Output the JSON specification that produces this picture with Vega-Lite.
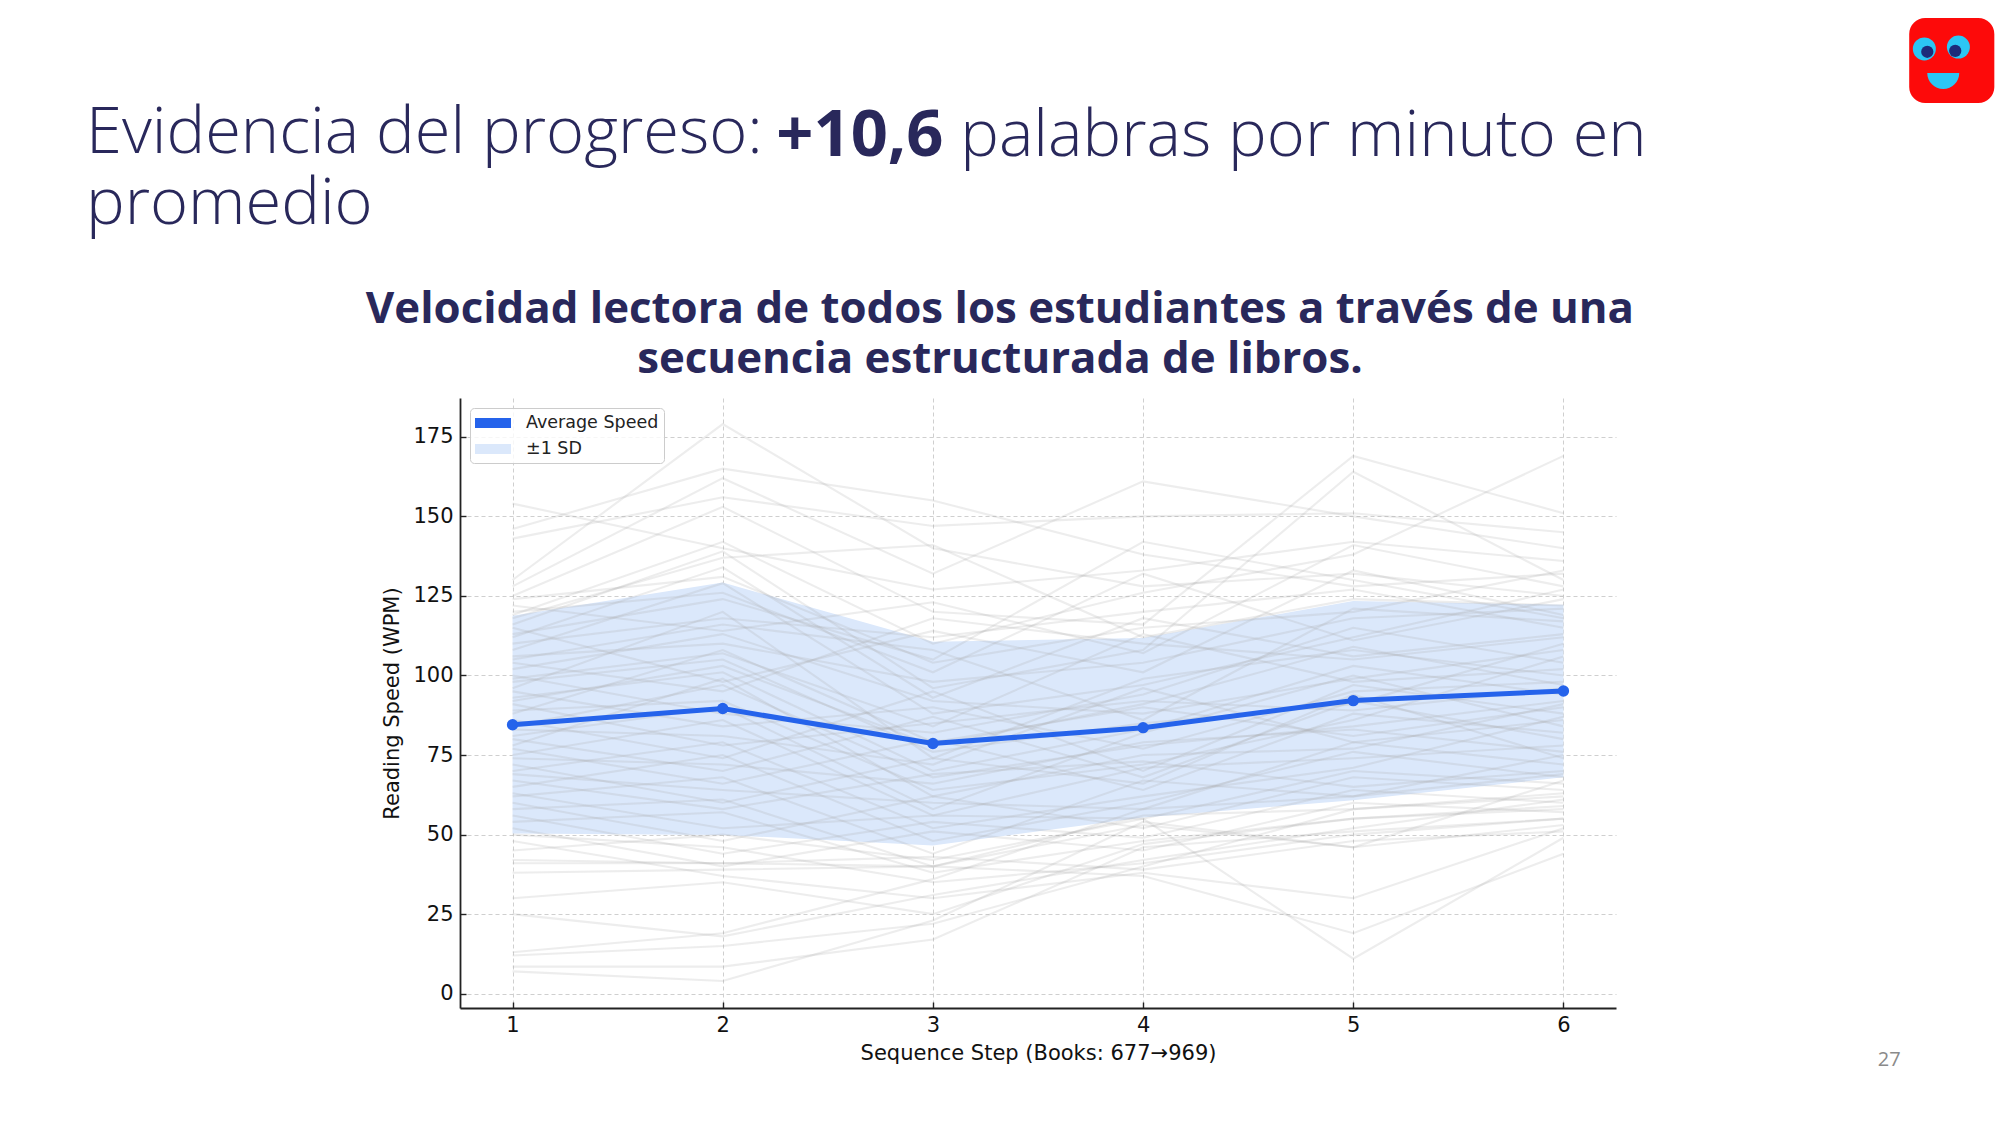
{
  "$schema": "https://vega.github.io/schema/vega-lite/v6.json",
  "background": "white",
  "padding": {"left": 86, "top": 18, "right": 5, "bottom": 20},
  "title": {
    "text": ["Evidencia del progreso:", "promedio"],
    "anchor": "start",
    "frame": "group",
    "dx": -374,
    "offset": -220,
    "font": "Open Sans",
    "fontSize": 65,
    "fontWeight": 300,
    "color": "#29285b",
    "lineHeight": 71
  },
  "width": 1156,
  "height": 610,
  "datasets": {
    "summary": [
      {"step": 1, "mean": 84.5, "lo": 50.3, "hi": 118.8},
      {"step": 2, "mean": 89.6, "lo": 49.9, "hi": 129.2},
      {"step": 3, "mean": 78.6, "lo": 46.6, "hi": 110.6},
      {"step": 4, "mean": 83.6, "lo": 55.4, "hi": 111.8},
      {"step": 5, "mean": 92.1, "lo": 60.8, "hi": 123.4},
      {"step": 6, "mean": 95.1, "lo": 68.0, "hi": 122.2}
    ],
    "students": [
      {"student":1,"step":1,"wpm":154},{"student":1,"step":2,"wpm":140},{"student":1,"step":3,"wpm":127},{"student":1,"step":4,"wpm":133},{"student":1,"step":5,"wpm":142},{"student":1,"step":6,"wpm":136},
      {"student":2,"step":1,"wpm":146},{"student":2,"step":2,"wpm":165},{"student":2,"step":3,"wpm":155},{"student":2,"step":4,"wpm":138},{"student":2,"step":5,"wpm":128},{"student":2,"step":6,"wpm":132},
      {"student":3,"step":1,"wpm":143},{"student":3,"step":2,"wpm":156},{"student":3,"step":3,"wpm":147},{"student":3,"step":4,"wpm":150},{"student":3,"step":5,"wpm":151},{"student":3,"step":6,"wpm":145},
      {"student":4,"step":1,"wpm":130},{"student":4,"step":2,"wpm":179},{"student":4,"step":3,"wpm":140},{"student":4,"step":4,"wpm":128},{"student":4,"step":5,"wpm":132},{"student":4,"step":6,"wpm":125},
      {"student":5,"step":1,"wpm":128},{"student":5,"step":2,"wpm":162},{"student":5,"step":3,"wpm":132},{"student":5,"step":4,"wpm":161},{"student":5,"step":5,"wpm":150},{"student":5,"step":6,"wpm":140},
      {"student":6,"step":1,"wpm":125},{"student":6,"step":2,"wpm":153},{"student":6,"step":3,"wpm":120},{"student":6,"step":4,"wpm":116},{"student":6,"step":5,"wpm":169},{"student":6,"step":6,"wpm":151},
      {"student":7,"step":1,"wpm":119},{"student":7,"step":2,"wpm":142},{"student":7,"step":3,"wpm":110},{"student":7,"step":4,"wpm":126},{"student":7,"step":5,"wpm":138},{"student":7,"step":6,"wpm":169},
      {"student":8,"step":1,"wpm":118},{"student":8,"step":2,"wpm":137},{"student":8,"step":3,"wpm":141},{"student":8,"step":4,"wpm":112},{"student":8,"step":5,"wpm":124},{"student":8,"step":6,"wpm":122},
      {"student":9,"step":1,"wpm":116},{"student":9,"step":2,"wpm":139},{"student":9,"step":3,"wpm":96},{"student":9,"step":4,"wpm":108},{"student":9,"step":5,"wpm":164},{"student":9,"step":6,"wpm":130},
      {"student":10,"step":1,"wpm":113},{"student":10,"step":2,"wpm":124},{"student":10,"step":3,"wpm":105},{"student":10,"step":4,"wpm":142},{"student":10,"step":5,"wpm":130},{"student":10,"step":6,"wpm":118},
      {"student":11,"step":1,"wpm":110},{"student":11,"step":2,"wpm":118},{"student":11,"step":3,"wpm":112},{"student":11,"step":4,"wpm":120},{"student":11,"step":5,"wpm":127},{"student":11,"step":6,"wpm":115},
      {"student":12,"step":1,"wpm":108},{"student":12,"step":2,"wpm":129},{"student":12,"step":3,"wpm":88},{"student":12,"step":4,"wpm":97},{"student":12,"step":5,"wpm":112},{"student":12,"step":6,"wpm":127},
      {"student":13,"step":1,"wpm":106},{"student":13,"step":2,"wpm":110},{"student":13,"step":3,"wpm":98},{"student":13,"step":4,"wpm":104},{"student":13,"step":5,"wpm":118},{"student":13,"step":6,"wpm":121},
      {"student":14,"step":1,"wpm":104},{"student":14,"step":2,"wpm":95},{"student":14,"step":3,"wpm":118},{"student":14,"step":4,"wpm":110},{"student":14,"step":5,"wpm":105},{"student":14,"step":6,"wpm":112},
      {"student":15,"step":1,"wpm":102},{"student":15,"step":2,"wpm":113},{"student":15,"step":3,"wpm":92},{"student":15,"step":4,"wpm":88},{"student":15,"step":5,"wpm":99},{"student":15,"step":6,"wpm":108},
      {"student":16,"step":1,"wpm":100},{"student":16,"step":2,"wpm":88},{"student":16,"step":3,"wpm":82},{"student":16,"step":4,"wpm":94},{"student":16,"step":5,"wpm":115},{"student":16,"step":6,"wpm":104},
      {"student":17,"step":1,"wpm":98},{"student":17,"step":2,"wpm":105},{"student":17,"step":3,"wpm":76},{"student":17,"step":4,"wpm":85},{"student":17,"step":5,"wpm":91},{"student":17,"step":6,"wpm":110},
      {"student":18,"step":1,"wpm":96},{"student":18,"step":2,"wpm":120},{"student":18,"step":3,"wpm":74},{"student":18,"step":4,"wpm":99},{"student":18,"step":5,"wpm":108},{"student":18,"step":6,"wpm":100},
      {"student":19,"step":1,"wpm":95},{"student":19,"step":2,"wpm":84},{"student":19,"step":3,"wpm":90},{"student":19,"step":4,"wpm":77},{"student":19,"step":5,"wpm":95},{"student":19,"step":6,"wpm":98},
      {"student":20,"step":1,"wpm":93},{"student":20,"step":2,"wpm":101},{"student":20,"step":3,"wpm":70},{"student":20,"step":4,"wpm":83},{"student":20,"step":5,"wpm":103},{"student":20,"step":6,"wpm":94},
      {"student":21,"step":1,"wpm":91},{"student":21,"step":2,"wpm":78},{"student":21,"step":3,"wpm":85},{"student":21,"step":4,"wpm":92},{"student":21,"step":5,"wpm":89},{"student":21,"step":6,"wpm":96},
      {"student":22,"step":1,"wpm":89},{"student":22,"step":2,"wpm":92},{"student":22,"step":3,"wpm":64},{"student":22,"step":4,"wpm":72},{"student":22,"step":5,"wpm":86},{"student":22,"step":6,"wpm":106},
      {"student":23,"step":1,"wpm":88},{"student":23,"step":2,"wpm":108},{"student":23,"step":3,"wpm":79},{"student":23,"step":4,"wpm":90},{"student":23,"step":5,"wpm":81},{"student":23,"step":6,"wpm":90},
      {"student":24,"step":1,"wpm":86},{"student":24,"step":2,"wpm":74},{"student":24,"step":3,"wpm":95},{"student":24,"step":4,"wpm":70},{"student":24,"step":5,"wpm":97},{"student":24,"step":6,"wpm":88},
      {"student":25,"step":1,"wpm":84},{"student":25,"step":2,"wpm":97},{"student":25,"step":3,"wpm":68},{"student":25,"step":4,"wpm":78},{"student":25,"step":5,"wpm":84},{"student":25,"step":6,"wpm":92},
      {"student":26,"step":1,"wpm":83},{"student":26,"step":2,"wpm":81},{"student":26,"step":3,"wpm":72},{"student":26,"step":4,"wpm":96},{"student":26,"step":5,"wpm":79},{"student":26,"step":6,"wpm":86},
      {"student":27,"step":1,"wpm":81},{"student":27,"step":2,"wpm":90},{"student":27,"step":3,"wpm":58},{"student":27,"step":4,"wpm":82},{"student":27,"step":5,"wpm":100},{"student":27,"step":6,"wpm":84},
      {"student":28,"step":1,"wpm":80},{"student":28,"step":2,"wpm":70},{"student":28,"step":3,"wpm":87},{"student":28,"step":4,"wpm":68},{"student":28,"step":5,"wpm":92},{"student":28,"step":6,"wpm":80},
      {"student":29,"step":1,"wpm":78},{"student":29,"step":2,"wpm":99},{"student":29,"step":3,"wpm":62},{"student":29,"step":4,"wpm":75},{"student":29,"step":5,"wpm":77},{"student":29,"step":6,"wpm":91},
      {"student":30,"step":1,"wpm":77},{"student":30,"step":2,"wpm":66},{"student":30,"step":3,"wpm":80},{"student":30,"step":4,"wpm":64},{"student":30,"step":5,"wpm":88},{"student":30,"step":6,"wpm":82},
      {"student":31,"step":1,"wpm":75},{"student":31,"step":2,"wpm":86},{"student":31,"step":3,"wpm":56},{"student":31,"step":4,"wpm":71},{"student":31,"step":5,"wpm":74},{"student":31,"step":6,"wpm":78},
      {"student":32,"step":1,"wpm":74},{"student":32,"step":2,"wpm":72},{"student":32,"step":3,"wpm":66},{"student":32,"step":4,"wpm":79},{"student":32,"step":5,"wpm":83},{"student":32,"step":6,"wpm":76},
      {"student":33,"step":1,"wpm":72},{"student":33,"step":2,"wpm":60},{"student":33,"step":3,"wpm":74},{"student":33,"step":4,"wpm":66},{"student":33,"step":5,"wpm":94},{"student":33,"step":6,"wpm":74},
      {"student":34,"step":1,"wpm":70},{"student":34,"step":2,"wpm":79},{"student":34,"step":3,"wpm":52},{"student":34,"step":4,"wpm":62},{"student":34,"step":5,"wpm":71},{"student":34,"step":6,"wpm":87},
      {"student":35,"step":1,"wpm":69},{"student":35,"step":2,"wpm":64},{"student":35,"step":3,"wpm":60},{"student":35,"step":4,"wpm":58},{"student":35,"step":5,"wpm":79},{"student":35,"step":6,"wpm":72},
      {"student":36,"step":1,"wpm":67},{"student":36,"step":2,"wpm":58},{"student":36,"step":3,"wpm":69},{"student":36,"step":4,"wpm":73},{"student":36,"step":5,"wpm":65},{"student":36,"step":6,"wpm":70},
      {"student":37,"step":1,"wpm":65},{"student":37,"step":2,"wpm":75},{"student":37,"step":3,"wpm":48},{"student":37,"step":4,"wpm":60},{"student":37,"step":5,"wpm":76},{"student":37,"step":6,"wpm":68},
      {"student":38,"step":1,"wpm":63},{"student":38,"step":2,"wpm":52},{"student":38,"step":3,"wpm":56},{"student":38,"step":4,"wpm":55},{"student":38,"step":5,"wpm":70},{"student":38,"step":6,"wpm":66},
      {"student":39,"step":1,"wpm":62},{"student":39,"step":2,"wpm":68},{"student":39,"step":3,"wpm":44},{"student":39,"step":4,"wpm":67},{"student":39,"step":5,"wpm":62},{"student":39,"step":6,"wpm":75},
      {"student":40,"step":1,"wpm":60},{"student":40,"step":2,"wpm":48},{"student":40,"step":3,"wpm":62},{"student":40,"step":4,"wpm":52},{"student":40,"step":5,"wpm":68},{"student":40,"step":6,"wpm":64},
      {"student":41,"step":1,"wpm":58},{"student":41,"step":2,"wpm":61},{"student":41,"step":3,"wpm":40},{"student":41,"step":4,"wpm":56},{"student":41,"step":5,"wpm":58},{"student":41,"step":6,"wpm":62},
      {"student":42,"step":1,"wpm":56},{"student":42,"step":2,"wpm":44},{"student":42,"step":3,"wpm":54},{"student":42,"step":4,"wpm":49},{"student":42,"step":5,"wpm":64},{"student":42,"step":6,"wpm":60},
      {"student":43,"step":1,"wpm":54},{"student":43,"step":2,"wpm":57},{"student":43,"step":3,"wpm":38},{"student":43,"step":4,"wpm":48},{"student":43,"step":5,"wpm":55},{"student":43,"step":6,"wpm":58},
      {"student":44,"step":1,"wpm":52},{"student":44,"step":2,"wpm":40},{"student":44,"step":3,"wpm":51},{"student":44,"step":4,"wpm":45},{"student":44,"step":5,"wpm":60},{"student":44,"step":6,"wpm":57},
      {"student":45,"step":1,"wpm":50},{"student":45,"step":2,"wpm":46},{"student":45,"step":3,"wpm":35},{"student":45,"step":4,"wpm":41},{"student":45,"step":5,"wpm":50},{"student":45,"step":6,"wpm":55},
      {"student":46,"step":1,"wpm":48},{"student":46,"step":2,"wpm":37},{"student":46,"step":3,"wpm":30},{"student":46,"step":4,"wpm":38},{"student":46,"step":5,"wpm":30},{"student":46,"step":6,"wpm":52},
      {"student":47,"step":1,"wpm":45},{"student":47,"step":2,"wpm":50},{"student":47,"step":3,"wpm":42},{"student":47,"step":4,"wpm":55},{"student":47,"step":5,"wpm":11},{"student":47,"step":6,"wpm":49},
      {"student":48,"step":1,"wpm":42},{"student":48,"step":2,"wpm":41},{"student":48,"step":3,"wpm":40},{"student":48,"step":4,"wpm":53},{"student":48,"step":5,"wpm":46},{"student":48,"step":6,"wpm":53},
      {"student":49,"step":1,"wpm":41},{"student":49,"step":2,"wpm":41},{"student":49,"step":3,"wpm":43},{"student":49,"step":4,"wpm":39},{"student":49,"step":5,"wpm":48},{"student":49,"step":6,"wpm":51},
      {"student":50,"step":1,"wpm":38},{"student":50,"step":2,"wpm":39},{"student":50,"step":3,"wpm":40},{"student":50,"step":4,"wpm":37},{"student":50,"step":5,"wpm":19},{"student":50,"step":6,"wpm":44},
      {"student":51,"step":1,"wpm":30},{"student":51,"step":2,"wpm":35},{"student":51,"step":3,"wpm":25},{"student":51,"step":4,"wpm":47},{"student":51,"step":5,"wpm":55},{"student":51,"step":6,"wpm":59},
      {"student":52,"step":1,"wpm":25},{"student":52,"step":2,"wpm":18},{"student":52,"step":3,"wpm":31},{"student":52,"step":4,"wpm":42},{"student":52,"step":5,"wpm":52},{"student":52,"step":6,"wpm":61},
      {"student":53,"step":1,"wpm":12},{"student":53,"step":2,"wpm":15},{"student":53,"step":3,"wpm":22},{"student":53,"step":4,"wpm":40},{"student":53,"step":5,"wpm":58},{"student":53,"step":6,"wpm":63},
      {"student":54,"step":1,"wpm":8.5},{"student":54,"step":2,"wpm":8.5},{"student":54,"step":3,"wpm":17},{"student":54,"step":4,"wpm":46},{"student":54,"step":5,"wpm":51},{"student":54,"step":6,"wpm":55},
      {"student":55,"step":1,"wpm":7},{"student":55,"step":2,"wpm":4},{"student":55,"step":3,"wpm":23},{"student":55,"step":4,"wpm":54},{"student":55,"step":5,"wpm":46},{"student":55,"step":6,"wpm":67},
      {"student":56,"step":1,"wpm":13},{"student":56,"step":2,"wpm":19},{"student":56,"step":3,"wpm":36},{"student":56,"step":4,"wpm":58},{"student":56,"step":5,"wpm":62},{"student":56,"step":6,"wpm":69},
      {"student":57,"step":1,"wpm":124},{"student":57,"step":2,"wpm":131},{"student":57,"step":3,"wpm":104},{"student":57,"step":4,"wpm":115},{"student":57,"step":5,"wpm":120},{"student":57,"step":6,"wpm":133},
      {"student":58,"step":1,"wpm":122},{"student":58,"step":2,"wpm":114},{"student":58,"step":3,"wpm":123},{"student":58,"step":4,"wpm":107},{"student":58,"step":5,"wpm":141},{"student":58,"step":6,"wpm":128},
      {"student":59,"step":1,"wpm":120},{"student":59,"step":2,"wpm":126},{"student":59,"step":3,"wpm":101},{"student":59,"step":4,"wpm":132},{"student":59,"step":5,"wpm":111},{"student":59,"step":6,"wpm":124},
      {"student":60,"step":1,"wpm":115},{"student":60,"step":2,"wpm":98},{"student":60,"step":3,"wpm":114},{"student":60,"step":4,"wpm":101},{"student":60,"step":5,"wpm":133},{"student":60,"step":6,"wpm":119},
      {"student":61,"step":1,"wpm":112},{"student":61,"step":2,"wpm":134},{"student":61,"step":3,"wpm":93},{"student":61,"step":4,"wpm":118},{"student":61,"step":5,"wpm":106},{"student":61,"step":6,"wpm":113},
      {"student":62,"step":1,"wpm":105},{"student":62,"step":2,"wpm":116},{"student":62,"step":3,"wpm":108},{"student":62,"step":4,"wpm":86},{"student":62,"step":5,"wpm":121},{"student":62,"step":6,"wpm":117},
      {"student":63,"step":1,"wpm":99},{"student":63,"step":2,"wpm":107},{"student":63,"step":3,"wpm":84},{"student":63,"step":4,"wpm":113},{"student":63,"step":5,"wpm":98},{"student":63,"step":6,"wpm":102},
      {"student":64,"step":1,"wpm":92},{"student":64,"step":2,"wpm":103},{"student":64,"step":3,"wpm":78},{"student":64,"step":4,"wpm":91},{"student":64,"step":5,"wpm":109},{"student":64,"step":6,"wpm":97}
    ]
  },
  "layer": [
    {
      "data": {"name": "summary"},
      "mark": {"type": "area", "opacity": 1},
      "encoding": {
        "x": {
          "field": "step", "type": "quantitative",
          "scale": {"domain": [0.75, 6.25], "nice": false, "zero": false},
          "axis": {"values": [1, 2, 3, 4, 5, 6], "format": "d", "title": "Sequence Step (Books: 677→969)"}
        },
        "y": {
          "field": "lo", "type": "quantitative",
          "scale": {"domain": [-4.5, 187.2], "nice": false, "zero": false},
          "axis": {"values": [0, 25, 50, 75, 100, 125, 150, 175], "format": "d", "title": "Reading Speed (WPM)"}
        },
        "y2": {"field": "hi"},
        "color": {
          "datum": "±1 SD",
          "scale": {"domain": ["Average Speed", "±1 SD"], "range": ["#2563eb", "#dbe8fb"]},
          "legend": {
            "title": null,
            "orient": "top-left",
            "direction": "vertical",
            "offset": 10,
            "padding": 5,
            "fillColor": "rgba(255,255,255,0.8)",
            "strokeColor": "#cccccc",
            "cornerRadius": 4,
            "labelFont": "DejaVu Sans",
            "labelFontSize": 17.5,
            "labelColor": "#222222",
            "symbolType": "M-1.8,-0.5H1.8V0.5H-1.8Z",
            "symbolSize": 400,
            "symbolStrokeWidth": 0,
            "symbolOffset": 8,
            "labelOffset": 23,
            "rowPadding": 7
          }
        }
      }
    },
    {
      "data": {"name": "students"},
      "mark": {"type": "line", "color": "#a4a4a4", "opacity": 0.2, "strokeWidth": 2.1},
      "encoding": {
        "x": {"field": "step", "type": "quantitative"},
        "y": {"field": "wpm", "type": "quantitative"},
        "detail": {"field": "student", "type": "nominal"}
      }
    },
    {
      "data": {"name": "summary"},
      "mark": {"type": "line", "color": "#2563eb", "strokeWidth": 5, "point": {"filled": true, "size": 130, "color": "#2563eb"}},
      "encoding": {
        "x": {"field": "step", "type": "quantitative"},
        "y": {"field": "mean", "type": "quantitative"}
      }
    },
    {
      "data": {"values": [{}]},
      "mark": {"type": "text", "text": "+10,6", "font": "Open Sans", "fontSize": 65, "fontWeight": 700, "color": "#29285b", "align": "left", "baseline": "alphabetic"},
      "encoding": {
        "x": {"datum": 2.255, "type": "quantitative"},
        "y": {"datum": 263.25, "type": "quantitative"}
      }
    },
    {
      "data": {"values": [{}]},
      "mark": {"type": "text", "text": "palabras por minuto en", "font": "Open Sans", "fontSize": 65, "fontWeight": 300, "color": "#29285b", "align": "left", "baseline": "alphabetic"},
      "encoding": {
        "x": {"datum": 3.13, "type": "quantitative"},
        "y": {"datum": 263.25, "type": "quantitative"}
      }
    },
    {
      "data": {"values": [{}]},
      "mark": {"type": "text", "text": ["Velocidad lectora de todos los estudiantes a través de una", "secuencia estructurada de libros."], "font": "Open Sans", "fontSize": 43.8, "fontWeight": 700, "color": "#29285b", "align": "center", "baseline": "alphabetic", "lineHeight": 50},
      "encoding": {
        "x": {"datum": 3.319, "type": "quantitative"},
        "y": {"datum": 210.8, "type": "quantitative"}
      }
    },
    {
      "data": {"values": [{}]},
      "mark": {"type": "rect", "color": "#fd0a0a", "cornerRadius": 16},
      "encoding": {
        "x": {"datum": 7.645, "type": "quantitative"},
        "x2": {"datum": 8.05},
        "y": {"datum": 306.6, "type": "quantitative"},
        "y2": {"datum": 279.9}
      }
    },
    {
      "data": {"values": [{}]},
      "mark": {"type": "point", "shape": "circle", "filled": true, "opacity": 1, "size": 530, "color": "#2cc6f4"},
      "encoding": {
        "x": {"datum": 7.717, "type": "quantitative"},
        "y": {"datum": 296.9, "type": "quantitative"}
      }
    },
    {
      "data": {"values": [{}]},
      "mark": {"type": "point", "shape": "circle", "filled": true, "opacity": 1, "size": 530, "color": "#2cc6f4"},
      "encoding": {
        "x": {"datum": 7.879, "type": "quantitative"},
        "y": {"datum": 297.5, "type": "quantitative"}
      }
    },
    {
      "data": {"values": [{}]},
      "mark": {"type": "point", "shape": "circle", "filled": true, "opacity": 1, "size": 150, "color": "#1d2b7a"},
      "encoding": {
        "x": {"datum": 7.731, "type": "quantitative"},
        "y": {"datum": 296.0, "type": "quantitative"}
      }
    },
    {
      "data": {"values": [{}]},
      "mark": {"type": "point", "shape": "circle", "filled": true, "opacity": 1, "size": 150, "color": "#1d2b7a"},
      "encoding": {
        "x": {"datum": 7.864, "type": "quantitative"},
        "y": {"datum": 296.3, "type": "quantitative"}
      }
    },
    {
      "data": {"values": [{}]},
      "mark": {"type": "point", "shape": "M-1,0A1,1 0 0,0 1,0Z", "filled": true, "opacity": 1, "size": 1024, "color": "#2cc6f4"},
      "encoding": {
        "x": {"datum": 7.807, "type": "quantitative"},
        "y": {"datum": 289.3, "type": "quantitative"}
      }
    },
    {
      "data": {"values": [{}]},
      "mark": {"type": "text", "text": "27", "font": "Open Sans", "fontSize": 20, "color": "#8a8a8a", "align": "center", "baseline": "middle"},
      "encoding": {
        "x": {"datum": 7.55, "type": "quantitative"},
        "y": {"datum": -20.8, "type": "quantitative"}
      }
    }
  ],
  "config": {
    "view": {"stroke": null},
    "font": "DejaVu Sans",
    "axis": {
      "labelFont": "DejaVu Sans",
      "labelFontSize": 21,
      "labelColor": "#111111",
      "titleFont": "DejaVu Sans",
      "titleFontSize": 21,
      "titleFontWeight": "normal",
      "titleColor": "#111111",
      "domainColor": "#222222",
      "domainWidth": 1.8,
      "tickColor": "#222222",
      "tickWidth": 1.4,
      "tickSize": -6,
      "grid": true,
      "gridColor": "#cfcfcf",
      "gridDash": [4, 3],
      "gridWidth": 1
    },
    "axisX": {"labelPadding": 12, "titlePadding": 7, "labelFlush": false},
    "axisY": {"labelPadding": 13, "titlePadding": 10, "labelFlush": false}
  }
}
